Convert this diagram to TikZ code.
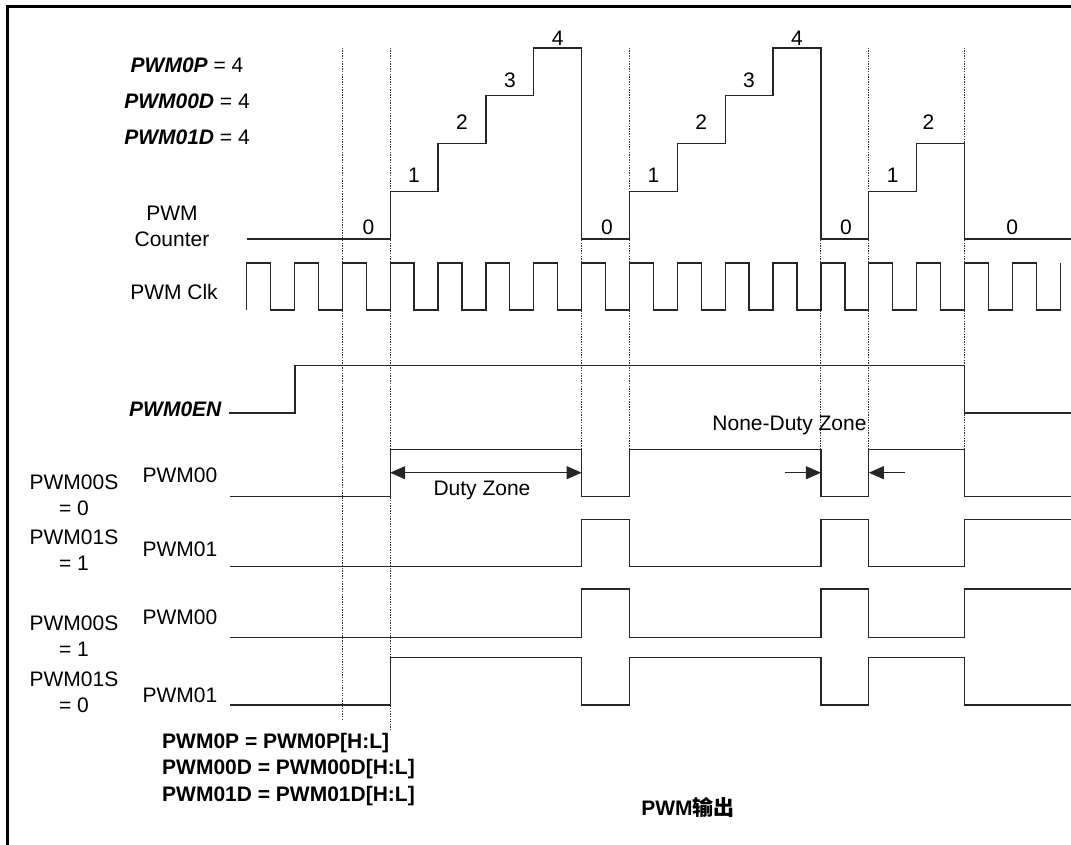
\documentclass[tikz,border=0pt]{standalone}
\usepackage{fontspec}
\setmainfont{Liberation Sans}
\newfontfamily\cjkfont{Noto Sans CJK SC}
\usepackage{tikz}
\usetikzlibrary{arrows.meta, positioning}

% x position of rising edge k of the PWM clock
\newcommand{\tk}[1]{246.6+47.86*#1}

\begin{document}
\begin{tikzpicture}[
  x=1pt, y=-1pt,
  lbl/.style={font=\fontsize{21}{26}\selectfont, inner sep=0pt, align=center},
  bfl/.style={lbl, font=\fontsize{21}{26.5}\selectfont\bfseries},
  sig/.style={draw=black!85, line width=1.3pt},
  guide/.style={draw=black!80, line width=0.9pt, dash pattern=on 1.3pt off 1.3pt},
  arrow/.style={-{Triangle[length=15pt, width=13pt]}, line width=1pt, draw=black!85},
  dual/.style={arrow, {Triangle[length=15pt, width=13pt]}-{Triangle[length=15pt, width=13pt]}},
  frame/.style={draw=black, line width=2.4pt}
]
  \useasboundingbox (0,0) rectangle (1071,845);
  \draw[frame] (1071,6.5) -- (7.5,6.5) -- (7.5,845);

  % Guides
  \foreach \k/\yb in {2/720, 3/729, 7/449, 8/449, 12/449, 13/449, 15/449}
    \draw[guide] ({\tk{\k}},47.7) -- ({\tk{\k}},\yb);

  % Settings
  \node[lbl] (p0p) at (187,65) {\textbf{\textit{PWM0P}} = 4};
  \node[lbl, below=21pt of p0p] (p00d) {\textbf{\textit{PWM00D}} = 4};
  \node[lbl, below=21pt of p00d] (p01d) {\textbf{\textit{PWM01D}} = 4};

  % Counter
  \node[lbl] (cnt) at (172,226.5) {PWM\\Counter};
  \draw[sig] ({\tk{0}},239) -| ({\tk{3}},191.2) -| ({\tk{4}},143.5) -| ({\tk{5}},95.7)
    -| ({\tk{6}},48) -| ({\tk{7}},239) -| ({\tk{8}},191.2) -| ({\tk{9}},143.5)
    -| ({\tk{10}},95.7) -| ({\tk{11}},48) -| ({\tk{12}},239) -| ({\tk{13}},191.2)
    -| ({\tk{14}},143.5) -| ({\tk{15}},239) -- (1071,239);
  \foreach \x/\y/\v/\n in {368.5/227.5/0/a, 414/175.7/1/b, 462/122.3/2/c, 510/80/3/d, 557.7/38.5/4/e,
      607/227.5/0/f, 653.4/175.7/1/g, 701.3/122.3/2/h, 749/80/3/i, 797/38.5/4/j,
      846/227.5/0/k, 892.7/175.7/1/l, 928.5/122.3/2/m, 1012.3/227.5/0/n}
    \node[lbl] (val\n) at (\x,\y) {\v};

  % Clock
  \node[lbl] (clk) at (174,292) {PWM Clk};
  \draw[sig] ({\tk{0}},310) \foreach \k in {0,...,16} { -- ++(0,-47) -- ++(23.93,0) -- ++(0,47) -- ++(23.93,0) } -- ++(0,-47);

  % Enable
  \node[lbl] (en) at (175.5,409) {\textbf{\textit{PWM0EN}}};
  \draw[sig] (229,413) -| (295,365.3) -| ({\tk{15}},413) -- (1071,413);

  % PWM00S = 0, PWM01S = 1
  \node[lbl] (s00a) at (74,495) {PWM00S\\= 0};
  \node[lbl] (s01a) at (74,550) {PWM01S\\= 1};
  \node[lbl] (o00a) at (180,475) {PWM00};
  \node[lbl] (o01a) at (180,549) {PWM01};
  \draw[sig] (230,496.7) -| ({\tk{3}},449.3) -| ({\tk{7}},496.7) -| ({\tk{8}},449.3)
    -| ({\tk{12}},496.7) -| ({\tk{13}},449.3) -| ({\tk{15}},496.7) -- (1071,496.7);
  \draw[sig] (230,566.7) -| ({\tk{7}},519.3) -| ({\tk{8}},566.7) -| ({\tk{12}},519.3)
    -| ({\tk{13}},566.7) -| ({\tk{15}},519.3) -- (1071,519.3);

  % Zones
  \coordinate (dzl) at ({\tk{3}},472.7);
  \coordinate (dzr) at ({\tk{7}},472.7);
  \draw[dual] (dzl) -- (dzr);
  \node[lbl] (dz) at (482,490) {Duty Zone};
  \coordinate (nza) at (785,472.7);
  \coordinate (nzb) at ({\tk{12}},472.7);
  \coordinate (nzc) at (905,472.7);
  \coordinate (nzd) at ({\tk{13}},472.7);
  \draw[arrow] (nza) -- (nzb);
  \draw[arrow] (nzc) -- (nzd);
  \node[lbl] (nz) at (789.5,425) {None-Duty Zone};

  % PWM00S = 1, PWM01S = 0
  \node[lbl] (s00b) at (74,636.5) {PWM00S\\= 1};
  \node[lbl] (s01b) at (74,692.5) {PWM01S\\= 0};
  \node[lbl] (o00b) at (180,617) {PWM00};
  \node[lbl] (o01b) at (180,695) {PWM01};
  \draw[sig] (230,637.3) -| ({\tk{7}},589) -| ({\tk{8}},637.3) -| ({\tk{12}},589)
    -| ({\tk{13}},637.3) -| ({\tk{15}},589) -- (1071,589);
  \draw[sig] (230,705) -| ({\tk{3}},657.3) -| ({\tk{7}},705) -| ({\tk{8}},657.3)
    -| ({\tk{12}},705) -| ({\tk{13}},657.3) -| ({\tk{15}},705) -- (1071,705);

  % Notes
  \node[bfl, align=left, anchor=north west] (regs) at (162,733)
    {PWM0P = PWM0P[H:L]\\PWM00D = PWM00D[H:L]\\PWM01D = PWM01D[H:L]};
  \node[bfl] (title) at (688,807) {PWM{\cjkfont 输出}};
\end{tikzpicture}
\end{document}
